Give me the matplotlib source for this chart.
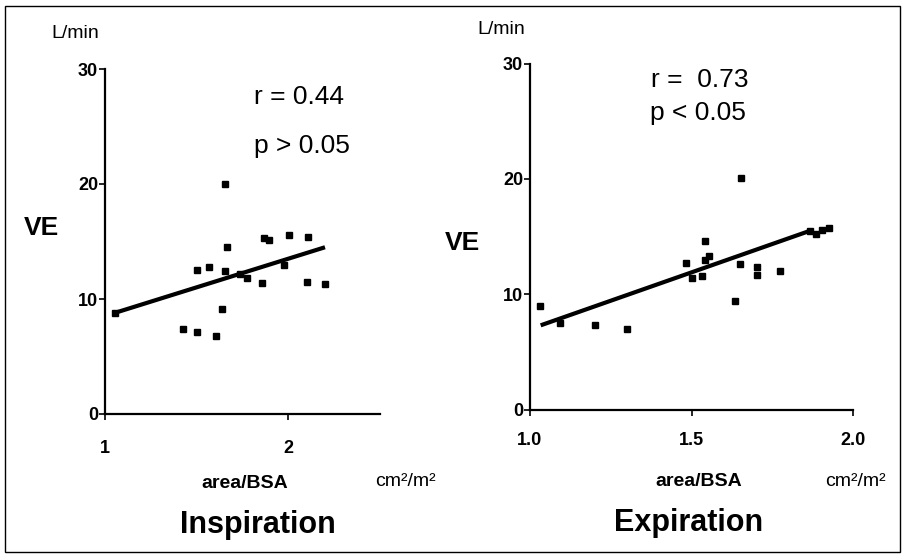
import matplotlib
matplotlib.use("Agg")
import matplotlib.pyplot as plt
from matplotlib.patches import Rectangle

plt.rcParams["font.family"] = ["Liberation Sans", "DejaVu Sans"]

# Inspiration: area/BSA (cm2/m2) vs VE (L/min)
insp_x = [1.055, 1.423, 1.501, 1.503, 1.565, 1.604, 1.637, 1.656, 1.657, 1.664,
          1.738, 1.774, 1.854, 1.865, 1.896, 1.975, 2.005, 2.101, 2.105, 2.202]
insp_y = [8.8, 7.4, 12.5, 7.1, 12.8, 6.8, 9.1, 12.4, 20.0, 14.5,
          12.2, 11.8, 11.4, 15.3, 15.1, 13.0, 15.6, 11.5, 15.4, 11.3]
insp_fit_x = [1.055, 2.20]
insp_fit_y = [8.8, 14.5]

# Expiration
exp_x = [1.031, 1.093, 1.202, 1.299, 1.481, 1.500, 1.531, 1.541, 1.542, 1.553,
         1.633, 1.651, 1.654, 1.701, 1.701, 1.772, 1.867, 1.884, 1.903, 1.926]
exp_y = [9.0, 7.5, 7.3, 7.0, 12.7, 11.4, 11.6, 13.0, 14.6, 13.3,
         9.4, 12.6, 20.1, 12.4, 11.7, 12.0, 15.5, 15.2, 15.6, 15.7]
exp_fit_x = [1.033, 1.866]
exp_fit_y = [7.3, 15.5]

yticks = [0, 10, 20, 30]
insp_xticks = [1, 2]
insp_xticklabels = ["1", "2"]
exp_xticks = [1.0, 1.5, 2.0]
exp_xticklabels = ["1.0", "1.5", "2.0"]

W, H = 904, 556
fig = plt.figure(figsize=(W / 100, H / 100), dpi=100)


def fx(px):
    return px / W


def fy(py):
    return 1 - py / H


def style(ax, xpad):
    for s in ["top", "right"]:
        ax.spines[s].set_visible(False)
    for s in ["left", "bottom"]:
        ax.spines[s].set_linewidth(1.6)
    ax.tick_params(axis="both", direction="out", length=4, width=1.2,
                   labelsize=13)
    ax.tick_params(axis="y", pad=1)
    ax.tick_params(axis="x", pad=xpad)
    for lab in ax.get_xticklabels() + ax.get_yticklabels():
        lab.set_fontweight("bold")


# left panel
ax1 = fig.add_axes([fx(105), fy(414), fx(380) - fx(105), fy(69) - fy(414)])
ax1.plot(insp_x, insp_y, "s", color="black", markersize=4)
ax1.plot(insp_fit_x, insp_fit_y, color="black", linewidth=3, solid_capstyle="butt")
ax1.set_xlim(1, 2.5)
ax1.set_ylim(0, 30)
ax1.set_yticks(yticks)
ax1.set_xticks(insp_xticks)
ax1.set_xticklabels(insp_xticklabels)
style(ax1, 15)

# right panel
ax2 = fig.add_axes([fx(530), fy(409.5), fx(853.3) - fx(530), fy(63.6) - fy(409.5)])
ax2.plot(exp_x, exp_y, "s", color="black", markersize=4)
ax2.plot(exp_fit_x, exp_fit_y, color="black", linewidth=3, solid_capstyle="butt")
ax2.set_xlim(1.0, 2.0)
ax2.set_ylim(0, 30)
ax2.set_yticks(yticks)
ax2.set_xticks(exp_xticks)
ax2.set_xticklabels(exp_xticklabels)
style(ax2, 12)


def txt(x, y, s, size, weight="normal"):
    fig.text(fx(x), fy(y), s, fontsize=size, fontweight=weight,
             ha="center", va="center")


# left labels
txt(75, 33, "L/min", 14)
txt(299, 97, "r = 0.44", 19)
txt(302, 146, "p > 0.05", 19)
txt(41, 228, "VE", 19, "bold")
txt(245, 483, "area/BSA", 14, "bold")
txt(405, 482, "cm²/m²", 14)
txt(258, 525, "Inspiration", 22, "bold")

# right labels
txt(501, 29, "L/min", 14)
txt(700, 80, "r =  0.73", 19)
txt(698, 113, "p < 0.05", 19)
txt(462, 243, "VE", 19, "bold")
txt(699, 481, "area/BSA", 14, "bold")
txt(855, 481, "cm²/m²", 14)
txt(689, 523, "Expiration", 22, "bold")

# frame around the figure
fig.patches.append(Rectangle((fx(5), fy(552)), fx(895), fy(6) - fy(552),
                             transform=fig.transFigure, fill=False,
                             edgecolor="black", linewidth=1.0))

fig.savefig("out.png", dpi=100)
